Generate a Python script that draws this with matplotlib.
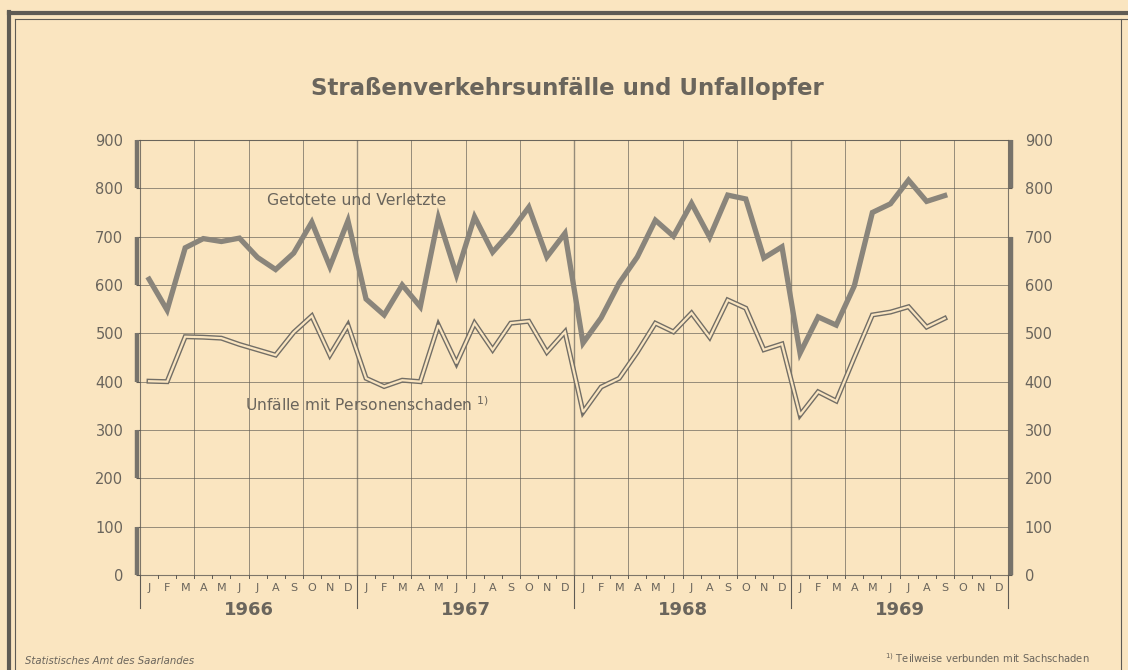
import matplotlib.pyplot as plt
import matplotlib.transforms as mtransforms
from matplotlib.lines import Line2D

# Monthly values Jan 1966 - Sep 1969
years = ["1966", "1967", "1968", "1969"]
month_letters = ["J", "F", "M", "A", "M", "J", "J", "A", "S", "O", "N", "D"]

getoetete = [
    612, 548, 677, 696, 690, 697, 657, 632, 666, 730, 638, 733,   # 1966
    571, 538, 600, 555, 739, 621, 741, 668, 710, 761, 658, 707,   # 1967
    480, 532, 604, 658, 734, 701, 769, 699, 786, 778, 656, 679,   # 1968
    459, 534, 517, 598, 750, 768, 817, 773, 785,                  # 1969
]
unfaelle = [
    401, 400, 493, 492, 490, 477, 466, 455, 502, 536, 455, 517,
    407, 390, 403, 400, 517, 438, 521, 466, 521, 525, 461, 503,
    337, 389, 407, 461, 521, 503, 542, 492, 569, 552, 466, 478,
    331, 379, 360, 450, 538, 544, 555, 513, 531,
]
y_ticks = [0, 100, 200, 300, 400, 500, 600, 700, 800, 900]

bg = "#fae5c0"
ink = "#5f5b54"
bar_col = "#77736b"
line_col = "#8a857b"
txt = "#6a655c"

W, H = 1128, 670
fig = plt.figure(figsize=(W / 100, H / 100), dpi=100, facecolor=bg)

x0, x1, ytop, ybot = 140, 1008, 140, 575
ax = fig.add_axes([x0 / W, 1 - ybot / H, (x1 - x0) / W, (ybot - ytop) / H])
ax.set_facecolor(bg)
n_months = 12 * len(years)
ax.set_xlim(0, n_months)
ax.set_ylim(0, 900)

# grid
for y in y_ticks:
    ax.axhline(y, color=ink, lw=0.7, alpha=0.65, zorder=1)
for m in range(3, n_months, 3):
    lw = 1.0 if m % 12 == 0 else 0.7
    ax.axvline(m, color=ink, lw=lw, alpha=0.65, zorder=1)

for s in ax.spines.values():
    s.set_color(ink)
    s.set_linewidth(0.8)
    s.set_alpha(0.8)

# series
xs1 = [i + 0.5 for i in range(len(getoetete))]
xs2 = [i + 0.5 for i in range(len(unfaelle))]
ax.plot(xs1, getoetete, color=line_col, lw=3.8, solid_joinstyle="miter", zorder=3)
ax.plot(xs2, unfaelle, color="#726e66", lw=3.6, solid_joinstyle="miter", zorder=3)
ax.plot(xs2, unfaelle, color=bg, lw=1.6, solid_joinstyle="miter", zorder=4)

ax.text(7.0, 765, "Getotete und Verletzte", fontsize=11.3, color=txt, zorder=5)
ax.text(5.8, 340, "Unfälle mit Personenschaden $^{1)}$", fontsize=11.2, color=txt, zorder=5)

# thick axis bars
trL = mtransforms.blended_transform_factory(ax.transAxes, ax.transData)
for lo in range(0, 900, 200):
    ax.plot([-0.0035, -0.0035], [lo, lo + 100], color=bar_col, lw=3.2,
            transform=trL, clip_on=False, solid_capstyle="butt")
for seg in ([0, 700], [800, 900]):
    ax.plot([1.0035, 1.0035], seg, color=bar_col, lw=3.2,
            transform=trL, clip_on=False, solid_capstyle="butt")

# y tick labels both sides
ax.set_yticks(y_ticks)
ax.tick_params(axis="y", length=3, color=ink, labelsize=10.5, labelcolor=txt,
               pad=9, left=True, right=True, labelleft=True, labelright=True)

# x axis: months and years
ax.set_xticks([])
trB = mtransforms.blended_transform_factory(ax.transData, ax.transAxes)
for m in range(n_months):
    ax.text(m + 0.5, -0.018, month_letters[m % 12], transform=trB, ha="center",
            va="top", fontsize=8, color=txt)
for m in range(1, n_months):
    ax.plot([m, m], [0, -0.008], color=ink, lw=0.7, transform=trB, clip_on=False)
for k, yr in enumerate(years):
    ax.text(12 * k + 6, -0.06, yr, transform=trB, ha="center", va="top",
            fontsize=13, color=txt, fontweight="bold")
for k in range(len(years) + 1):
    ax.plot([12 * k, 12 * k], [0, -0.075], color=ink, lw=0.8,
            transform=trB, clip_on=False)

# title and footnotes
fig.text(0.503, 1 - 88 / H, "Straßenverkehrsunfälle und Unfallopfer", ha="center",
         va="center", fontsize=16.5, fontweight="bold", color=txt)
fig.text(25 / W, 1 - 661 / H, "Statistisches Amt des Saarlandes", fontsize=7.3,
         style="italic", color=txt, va="center")
fig.text(885 / W, 1 - 658 / H, "$^{1)}$ Teilweise verbunden mit Sachschaden",
         fontsize=7.2, color=txt, va="center")

# sheet frame
fig.add_artist(Line2D([9 / W, 9 / W], [0, 1 - 12 / H], color=ink, lw=3))
fig.add_artist(Line2D([9 / W, 1], [1 - 13 / H, 1 - 13 / H], color=ink, lw=3))
fig.add_artist(Line2D([15 / W, 15 / W], [0, 1 - 19 / H], color=ink, lw=0.8))
fig.add_artist(Line2D([15 / W, 1], [1 - 19 / H, 1 - 19 / H], color=ink, lw=0.8))
fig.add_artist(Line2D([1121 / W, 1121 / W], [0, 1 - 19 / H], color=ink, lw=0.8))

fig.savefig("out.png", dpi=100, facecolor=bg)
